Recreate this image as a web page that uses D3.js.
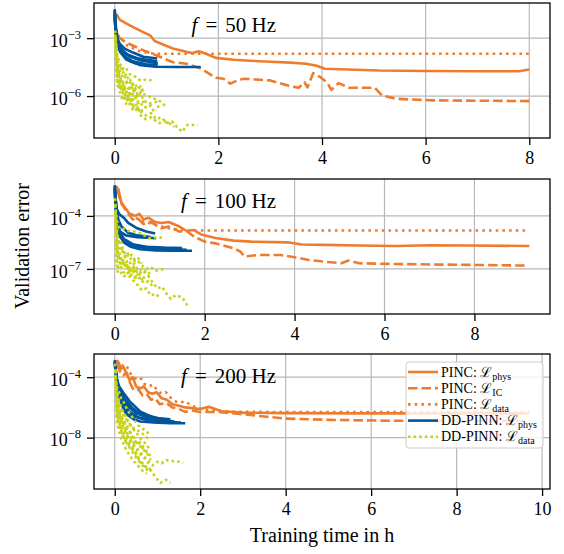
<!DOCTYPE html>
<html>
<head>
<meta charset="utf-8">
<script src="https://cdn.jsdelivr.net/npm/d3@7"></script>
<style>
  body { margin: 0; background: #fff; }
  svg { display: block; }
  text { font-family: "Liberation Serif", "Times New Roman", serif; fill: #000; }
</style>
</head>
<body>
<svg id="chart" width="564" height="554"></svg>
<script>
// ---- tick labels ----
const xTicks50 = [0, 2, 4, 6, 8];
const xTicks100 = [0, 2, 4, 6, 8];
const xTicks200 = [0, 2, 4, 6, 8, 10];
const yTicks50 = [1e-3, 1e-6];
const yTicks100 = [1e-4, 1e-7];
const yTicks200 = [1e-4, 1e-8];
const freqLabels = ["50", "100", "200"];

// ---- f = 50 Hz : [training time in h, validation error] ----
const pincPhys50 = [[0.03,1.8e-2],[0.1,8.9e-3],[0.3,4.5e-3],[0.5,2.4e-3],[0.69,1.35e-3],[0.77,7.1e-4],[1.05,3.5e-4],[1.14,2.8e-4],[1.4,1.9e-4],[1.5,1.7e-4],[1.62,2.1e-4],[1.75,1.6e-4],[1.95,9.5e-5],[2.3,7.6e-5],[2.6,6.8e-5],[3.0,6.0e-5],[3.4,5.4e-5],[3.69,4.7e-5],[3.9,3.7e-5],[4.05,2.6e-5],[4.5,2.4e-5],[5.1,2.1e-5],[6.0,2.0e-5],[7.0,1.95e-5],[7.8,1.95e-5],[8.0,2.4e-5]];
const pincIC50 = [[0.05,1.3e-3],[0.2,6.3e-4],[0.56,2.3e-4],[0.8,1.3e-4],[1.11,5.8e-5],[1.39,4.7e-5],[1.67,2.6e-5],[1.95,8.9e-6],[2.1,7.9e-6],[2.23,4.4e-6],[2.4,7.1e-6],[2.51,7.9e-6],[3.0,6.5e-6],[3.34,3.5e-6],[3.55,2.7e-6],[3.66,5.2e-6],[3.72,2.8e-6],[3.83,1.55e-5],[3.97,9.5e-6],[4.1,5.0e-6],[4.18,2.1e-6],[4.32,4.7e-6],[4.53,2.7e-6],[5.02,2.7e-6],[5.16,1.07e-6],[5.44,7.2e-7],[6.13,6.0e-7],[8.0,5.5e-7]];
const pincData50 = [[0.05,1.6e-3],[0.25,4.0e-4],[0.5,2.0e-4],[0.75,1.6e-4],[1.0,1.55e-4],[8.0,1.55e-4]];
const ddPhys50 = [
  [[0,3.2e-2],[0.01,1e-2],[0.03,2.5e-3],[0.06,7.9e-4],[0.1,3.2e-4],[0.17,1.3e-4],[0.3,6.3e-5],[0.5,4.0e-5],[0.8,3.3e-5],[1.2,3.2e-5],[1.66,3.2e-5]],
  [[0,2.5e-2],[0.02,3.2e-3],[0.05,1e-3],[0.1,5.0e-4],[0.2,2.8e-4],[0.35,1.8e-4],[0.55,1.1e-4],[0.82,8.9e-5]],
  [[0,2.0e-2],[0.02,2.0e-3],[0.06,6.3e-4],[0.12,2.8e-4],[0.25,1.4e-4],[0.45,8.9e-5],[0.82,6.3e-5]],
  [[0,1.6e-2],[0.03,1.3e-3],[0.08,4.0e-4],[0.18,1.8e-4],[0.35,1e-4],[0.6,7.1e-5],[0.7,6.3e-5]],
  [[0,1e-2],[0.03,1e-3],[0.1,2.0e-4],[0.22,7.9e-5],[0.4,5.0e-5],[0.6,4.0e-5],[0.8,3.5e-5]],
  [[0,1.3e-2],[0.02,1.6e-3],[0.06,5e-4],[0.15,2e-4],[0.3,1.1e-4],[0.5,7.1e-5],[0.83,5e-5]],
  [[0,2.8e-2],[0.01,5e-3],[0.04,8.9e-4],[0.1,2.5e-4],[0.2,1.1e-4],[0.35,6.3e-5],[0.6,4.5e-5],[0.83,4e-5]]
];
const ddData50 = [
  [[0.01,2.5e-3],[0.02,5e-4],[0.05,1.3e-4],[0.1,5e-5],[0.15,2.5e-5],[0.2,3.2e-5],[0.3,1.3e-5],[0.4,1e-5],[0.5,6.3e-6],[0.6,7.1e-6],[0.77,6.3e-6]],
  [[0.01,1e-3],[0.03,1.6e-4],[0.06,3.2e-5],[0.1,1e-5],[0.15,5e-6],[0.2,2.5e-6],[0.25,3.2e-6],[0.3,1.3e-6],[0.35,2e-6],[0.45,1e-6],[0.5,1.6e-6],[0.55,6.3e-7],[0.65,4e-7],[0.8,5e-7],[0.85,2.5e-7]],
  [[0.02,3.2e-4],[0.05,2.5e-5],[0.08,6.3e-6],[0.12,3.2e-6],[0.16,1.3e-6],[0.2,7.9e-7],[0.25,1e-6],[0.3,4e-7],[0.35,2.5e-7],[0.4,3.2e-7],[0.5,1.6e-7],[0.6,1e-7],[0.7,1.3e-7],[0.8,6.3e-8],[0.9,7.9e-8],[1.0,4e-8],[1.1,5e-8],[1.2,2.5e-8],[1.3,1.4e-8],[1.4,3.2e-8],[1.6,3.2e-8]],
  [[0.02,1e-4],[0.06,1.3e-5],[0.1,4e-6],[0.15,2e-6],[0.2,2.5e-6],[0.25,1e-6],[0.3,1.6e-6],[0.35,6.3e-7],[0.4,1e-6],[0.45,5e-7],[0.55,5e-7],[0.6,2.5e-7],[0.7,3.2e-7],[0.75,1.6e-7],[0.8,2e-7]],
  [[0.03,5e-5],[0.08,1e-5],[0.12,6.3e-6],[0.18,3.2e-6],[0.22,5e-6],[0.3,2.5e-6],[0.35,4e-6],[0.4,2e-6],[0.5,3.2e-6],[0.55,1.3e-6],[0.9,5e-7],[1.0,2.5e-7]],
  [[0.02,6.3e-4],[0.04,1e-4],[0.08,2.5e-5],[0.12,1.6e-5],[0.16,7.9e-6],[0.2,1e-5],[0.25,4e-6],[0.3,5e-6],[0.35,2e-6],[0.4,2.5e-6],[0.45,1e-6],[0.5,1.3e-6]],
  [[0.02,1.6e-4],[0.05,1.6e-5],[0.08,5e-6],[0.12,2.5e-6],[0.16,3.2e-6],[0.2,1.3e-6],[0.25,6.3e-7],[0.3,7.9e-7],[0.35,3.2e-7],[0.4,4e-7],[0.45,2e-7],[0.5,2.5e-7],[0.55,1.3e-7]],
  [[0.03,2.5e-5],[0.06,4e-6],[0.1,1.6e-6],[0.14,7.9e-7],[0.18,1e-6],[0.22,4e-7],[0.27,5e-7],[0.32,2.5e-7],[0.38,1.6e-7],[0.45,2.5e-7],[0.5,1e-7],[0.6,6.3e-8],[0.7,7.9e-8],[0.85,4e-8],[1.0,5e-8],[1.15,2.5e-8]],
  [[0.01,1.6e-3],[0.02,2.5e-4],[0.03,6.3e-5],[0.04,1.6e-5],[0.05,5e-6],[0.07,2.5e-6],[0.1,4e-6],[0.13,1.6e-6],[0.17,2e-6],[0.21,1e-6],[0.26,5e-7],[0.3,6.3e-7],[0.36,3.2e-7]],
  [[0.02,1e-3],[0.04,2e-4],[0.06,6.3e-5],[0.09,3.2e-5],[0.12,4e-5],[0.15,1.6e-5],[0.19,2e-5],[0.23,7.9e-6],[0.28,1e-5],[0.33,4e-6],[0.38,5e-6],[0.44,2.5e-6],[0.5,3.2e-6],[0.56,1.6e-6]],
  [[0.03,1e-4],[0.05,3.2e-5],[0.08,1.3e-5],[0.11,6.3e-6],[0.14,7.9e-6],[0.18,3.2e-6],[0.22,1.6e-6],[0.26,2e-6],[0.31,1e-6],[0.36,1.3e-6],[0.42,6.3e-7],[0.48,3.2e-7],[0.54,4e-7]]
];

// ---- f = 100 Hz ----
const pincPhys100 = [[0.04,5e-3],[0.1,1.3e-3],[0.16,5e-4],[0.22,3.2e-4],[0.32,1.4e-4],[0.45,1e-4],[0.55,1.3e-4],[0.64,6.3e-5],[0.75,7.9e-5],[0.9,4.5e-5],[1.04,4e-5],[1.2,4.5e-5],[1.44,2.5e-5],[1.6,1.4e-5],[1.75,1.6e-5],[1.92,8.9e-6],[2.24,5.6e-6],[2.64,4e-6],[3.04,3.5e-6],[3.84,3.2e-6],[4.16,2.4e-6],[4.64,2.3e-6],[5.44,2.1e-6],[6.24,2e-6],[7.04,2.2e-6],[7.84,2.1e-6],[9.22,2e-6]];
const pincIC100 = [[0.08,3.5e-3],[0.15,5e-4],[0.25,2e-4],[0.4,6.3e-5],[0.5,7.9e-5],[0.64,3.5e-5],[0.8,4.5e-5],[1.04,2e-5],[1.2,2.5e-5],[1.44,1.3e-5],[1.6,1.4e-5],[1.76,6.8e-6],[2.0,3.5e-6],[2.24,2.8e-6],[2.64,1.5e-6],[2.8,9.5e-7],[2.88,5e-7],[3.2,6.2e-7],[3.68,6.2e-7],[4.0,4.6e-7],[4.32,3.2e-7],[4.64,2.6e-7],[5.04,2.1e-7],[5.2,3e-7],[5.44,2.1e-7],[6.24,1.9e-7],[7.84,1.7e-7],[9.2,1.55e-7]];
const pincData100 = [[0.05,2.5e-3],[0.2,3.2e-4],[0.4,1e-4],[0.6,5e-5],[0.9,3.2e-5],[1.2,2e-5],[1.6,1.5e-5],[2.0,1.5e-5],[9.2,1.5e-5]];
const ddPhys100 = [
  [[0,5.5e-3],[0.02,1e-3],[0.04,1.3e-4],[0.08,2.5e-5],[0.14,7.9e-6],[0.2,3.2e-6],[0.35,1.8e-6],[0.57,1.3e-6],[0.9,1.1e-6],[1.3,1.07e-6],[1.72,1.07e-6]],
  [[0,4e-3],[0.03,2.5e-4],[0.06,4e-5],[0.1,1.3e-5],[0.2,4.5e-6],[0.35,2.5e-6],[0.6,1.8e-6],[0.9,1.6e-6],[1.2,1.4e-6]],
  [[0,2.5e-3],[0.03,1.6e-4],[0.06,3.2e-5],[0.12,1.3e-5],[0.25,7.9e-6],[0.5,6.3e-6],[0.92,5.5e-6]],
  [[0.01,1.6e-3],[0.04,2.5e-4],[0.1,1.3e-4],[0.2,7.9e-5],[0.3,4e-5],[0.5,2e-5],[0.7,1.3e-5],[0.9,1e-5]],
  [[0.01,1.3e-3],[0.02,5e-4],[0.08,6.3e-5],[0.15,2.5e-5],[0.3,1.1e-5],[0.5,7.9e-6],[0.8,6.3e-6]],
  [[0,5e-3],[0.03,5e-4],[0.06,6.3e-5],[0.1,1.6e-5],[0.2,5e-6],[0.4,2.5e-6],[0.7,1.8e-6],[1.1,1.6e-6],[1.5,1.5e-6]],
  [[0,3.2e-3],[0.02,3.2e-4],[0.05,3.2e-5],[0.1,7.9e-6],[0.2,3.5e-6],[0.4,2e-6],[0.8,1.4e-6],[1.3,1.3e-6],[1.6,1.2e-6]]
];
const ddData100 = [
  [[0.01,1e-3],[0.02,2.5e-4],[0.04,7.9e-5],[0.07,3.2e-5],[0.1,2e-5],[0.2,1.8e-5],[0.3,1.4e-5],[0.45,1.3e-5],[0.6,1e-5],[0.75,5.6e-6],[0.95,6.3e-6],[1.1,5.6e-6]],
  [[0.02,3.2e-5],[0.04,5e-6],[0.07,1.6e-6],[0.12,6.3e-7],[0.18,1e-6],[0.25,4e-7],[0.3,6.3e-7],[0.4,2.5e-7],[0.5,3.2e-7],[0.6,1.6e-7],[0.7,1e-7],[0.8,1.3e-7],[0.9,7.9e-8],[1.0,8.9e-8],[1.1,1e-7]],
  [[0.03,1e-5],[0.05,1.6e-6],[0.08,4e-7],[0.12,2e-7],[0.18,3.2e-7],[0.25,1.3e-7],[0.35,7.9e-8],[0.45,1.3e-7],[0.55,5e-8],[0.65,3.2e-8],[0.75,4e-8],[0.85,1.6e-8],[0.95,7.9e-9],[1.05,1e-8],[1.15,4e-9],[1.25,2e-9],[1.35,3.2e-9],[1.5,2.5e-9],[1.65,6.3e-10]],
  [[0.02,3.2e-6],[0.04,3.2e-7],[0.06,7.9e-8],[0.1,5e-8],[0.15,6.3e-8],[0.2,4e-8],[0.3,4.5e-8],[0.4,2.5e-8],[0.5,1.3e-8],[0.6,6.3e-9],[0.7,7.9e-9],[0.8,3.2e-9],[0.9,4e-9],[1.0,2.5e-9]],
  [[0.05,1e-6],[0.1,4e-7],[0.15,1.6e-7],[0.22,2.5e-7],[0.3,1e-7],[0.4,1.6e-7],[0.5,6.3e-8],[0.6,1e-7],[0.7,5e-8],[0.8,6.3e-8]],
  [[0.02,1.6e-4],[0.04,2.5e-5],[0.07,6.3e-6],[0.1,2.5e-6],[0.14,3.2e-6],[0.18,1.3e-6],[0.22,7.9e-7],[0.27,1e-6],[0.32,5e-7],[0.38,6.3e-7],[0.45,3.2e-7],[0.52,4e-7],[0.6,2e-7]],
  [[0.03,6.3e-7],[0.06,1.6e-7],[0.1,1e-7],[0.14,1.3e-7],[0.2,6.3e-8],[0.26,7.9e-8],[0.33,4e-8],[0.4,5e-8],[0.48,2.5e-8],[0.56,3.2e-8],[0.65,1.6e-8],[0.75,2e-8],[0.85,1e-8]],
  [[0.02,6.3e-5],[0.05,1e-5],[0.09,2.5e-6],[0.13,1e-6],[0.17,1.6e-6],[0.21,6.3e-7],[0.26,2.5e-7],[0.31,3.2e-7],[0.37,1.6e-7],[0.44,2e-7],[0.5,1e-7],[0.58,6.3e-8],[0.66,7.9e-8],[0.75,4e-8]],
  [[0.01,4e-4],[0.02,5e-5],[0.03,1e-5],[0.05,2.5e-6],[0.07,7.9e-7],[0.1,4e-7],[0.13,5e-7],[0.17,2e-7],[0.21,2.5e-7],[0.26,1e-7],[0.31,1.3e-7],[0.37,6.3e-8],[0.44,7.9e-8],[0.5,4e-8]],
  [[0.02,1e-5],[0.04,1.3e-6],[0.07,5e-7],[0.1,6.3e-7],[0.14,2.5e-7],[0.18,3.2e-7],[0.23,1.3e-7],[0.28,1.6e-7],[0.34,6.3e-8],[0.4,7.9e-8],[0.47,3.2e-8],[0.55,5e-8],[0.62,2e-8]]
];

// ---- f = 200 Hz ----
const pincPhys200 = [[0.03,1.35e-3],[0.1,7.9e-4],[0.15,3.5e-4],[0.2,5e-4],[0.28,1.6e-4],[0.35,6.3e-5],[0.42,1e-4],[0.5,2.5e-5],[0.6,1.8e-5],[0.68,2.5e-5],[0.78,1e-5],[0.88,7.9e-6],[0.98,1e-5],[1.1,4e-6],[1.22,3.2e-6],[1.35,1.6e-6],[1.5,1.3e-6],[1.65,1e-6],[1.8,8.9e-7],[2.0,7.9e-7],[2.2,1.1e-6],[2.5,5.6e-7],[3.0,4.5e-7],[4.0,4.2e-7],[6.0,4e-7],[8.0,4e-7],[9.7,4e-7]];
const pincIC200 = [[0.05,7.9e-4],[0.12,2.5e-4],[0.2,1.3e-4],[0.28,2e-4],[0.36,4e-5],[0.45,1.3e-5],[0.55,1.6e-5],[0.65,6.3e-6],[0.75,7.9e-6],[0.85,3.2e-6],[0.95,4e-6],[1.05,1.6e-6],[1.2,2e-6],[1.35,1e-6],[1.5,7.9e-7],[1.65,5e-7],[1.8,6.3e-7],[2.0,5e-7],[2.4,5e-7],[3.0,3.5e-7],[3.5,2.5e-7],[4.0,1.8e-7],[5.0,1.5e-7],[6.5,1.3e-7],[8.0,1.26e-7],[9.7,1.26e-7]];
const pincData200 = [[0.05,1e-3],[0.12,1.1e-3],[0.2,5e-4],[0.28,5.6e-4],[0.35,2e-4],[0.45,1e-4],[0.55,6.3e-5],[0.62,7.9e-5],[0.7,3.5e-5],[0.8,2.5e-5],[0.9,3.2e-5],[1.0,1.3e-5],[1.1,7.9e-6],[1.2,1e-5],[1.35,3.2e-6],[1.5,2e-6],[1.65,2.5e-6],[1.8,1.3e-6],[2.0,7.9e-7],[2.3,6.3e-7],[2.7,5.2e-7],[3.5,5e-7],[9.7,5e-7]];
const ddPhys200 = [
  [[0,1.35e-3],[0.02,2.5e-4],[0.05,4e-5],[0.1,6.3e-6],[0.15,2e-6],[0.21,6.8e-7],[0.3,3.2e-7],[0.45,1.6e-7],[0.6,1.15e-7],[0.9,1e-7],[1.3,8.9e-8],[1.65,8.9e-8]],
  [[0,1e-3],[0.03,1e-4],[0.07,1.6e-5],[0.12,4e-6],[0.2,1.3e-6],[0.3,5e-7],[0.45,2.5e-7],[0.7,1.6e-7],[1.0,1.3e-7],[1.4,1.1e-7]],
  [[0.01,6.3e-4],[0.04,1e-4],[0.1,2.5e-5],[0.21,8.7e-6],[0.35,2.5e-6],[0.6,5.2e-7],[0.9,2.2e-7],[1.37,1.15e-7]],
  [[0.02,3.2e-4],[0.06,5e-5],[0.12,1.3e-5],[0.25,3.2e-6],[0.4,1e-6],[0.6,3.5e-7],[0.9,1.8e-7],[1.2,1.4e-7]],
  [[0.02,4e-4],[0.05,6.3e-5],[0.1,1.3e-5],[0.18,4e-6],[0.3,1.3e-6],[0.5,4e-7],[0.8,2e-7],[1.1,1.4e-7]],
  [[0,1.1e-3],[0.03,1.6e-4],[0.07,2.5e-5],[0.13,6.3e-6],[0.22,1.6e-6],[0.35,5e-7],[0.55,2.2e-7],[0.85,1.4e-7],[1.2,1.1e-7],[1.55,1e-7]],
  [[0.01,5e-4],[0.04,7.9e-5],[0.09,1.6e-5],[0.16,5e-6],[0.28,1.6e-6],[0.45,6.3e-7],[0.7,3.2e-7],[1.0,2e-7],[1.3,1.6e-7]]
];
const ddData200 = [
  [[0.01,7.9e-4],[0.02,1.6e-4],[0.03,5e-5],[0.05,2.5e-5],[0.08,1.3e-5],[0.12,7.9e-6],[0.15,4e-6],[0.18,3.2e-6],[0.25,1.3e-6],[0.3,6.3e-7],[0.35,4e-7],[0.45,1.6e-7],[0.55,6.3e-8],[0.65,4e-8],[0.75,2.5e-8],[0.84,1.3e-8]],
  [[0.02,3.2e-5],[0.04,5e-6],[0.06,1.6e-6],[0.1,5e-7],[0.15,2.5e-7],[0.2,1.3e-7],[0.25,6.3e-8],[0.3,3.2e-8],[0.37,2e-8],[0.45,1e-8],[0.5,5e-9],[0.6,2.5e-9],[0.7,1.3e-9],[0.8,6.3e-10],[0.84,3.4e-10]],
  [[0.03,3.2e-6],[0.06,5e-7],[0.1,1.3e-7],[0.15,5e-8],[0.2,2.5e-8],[0.25,1.3e-8],[0.3,6.3e-9],[0.4,2.5e-9],[0.5,1e-9],[0.6,2.5e-10],[0.7,1.3e-10],[0.84,7.9e-11],[0.9,1.6e-10],[1.0,2.5e-10],[1.1,2e-10],[1.2,3.2e-10],[1.35,2.8e-10],[1.5,2.5e-10],[1.6,2e-10]],
  [[0.04,1e-6],[0.08,1.6e-7],[0.12,6.3e-8],[0.18,1.6e-8],[0.25,6.3e-9],[0.35,2.5e-9],[0.45,1.3e-9],[0.55,4e-10],[0.65,2e-10],[0.75,1e-10],[0.85,6.3e-11],[0.95,2.5e-11],[1.07,1e-11],[1.2,1.6e-11],[1.3,1e-11]],
  [[0.05,1e-5],[0.1,1.6e-6],[0.15,7.9e-7],[0.22,2.5e-7],[0.3,1.3e-7],[0.4,5e-8],[0.5,3.2e-8],[0.6,2.5e-8],[0.7,1.3e-8],[0.8,7.9e-9]],
  [[0.02,2.5e-4],[0.04,2.5e-5],[0.07,6.3e-6],[0.1,2.5e-6],[0.14,1.3e-6],[0.18,6.3e-7],[0.23,4e-7],[0.28,1.6e-7],[0.33,1e-7],[0.4,5e-8],[0.48,2.5e-8],[0.56,1.3e-8],[0.64,6.3e-9],[0.72,4e-9],[0.8,2e-9]],
  [[0.03,1e-5],[0.05,1.6e-6],[0.08,4e-7],[0.12,1.6e-7],[0.16,7.9e-8],[0.21,4e-8],[0.26,2e-8],[0.31,1e-8],[0.37,5e-9],[0.44,3.2e-9],[0.52,1.6e-9],[0.6,7.9e-10],[0.68,5e-10],[0.76,2.5e-10],[0.84,1.6e-10]],
  [[0.02,1e-4],[0.04,1e-5],[0.07,2.5e-6],[0.11,7.9e-7],[0.15,3.2e-7],[0.2,1.6e-7],[0.26,7.9e-8],[0.32,4e-8],[0.38,1.6e-8],[0.45,7.9e-9],[0.52,4e-9],[0.6,5e-9],[0.68,2e-9],[0.76,1e-9],[0.84,6.3e-10]],
  [[0.04,3.2e-7],[0.07,6.3e-8],[0.1,2.5e-8],[0.14,1e-8],[0.19,5e-9],[0.25,2e-9],[0.31,1e-9],[0.38,5e-10],[0.46,2.5e-10],[0.55,1.3e-10],[0.65,6.3e-11],[0.75,4e-11]],
  [[0.01,3.2e-4],[0.02,4e-5],[0.04,6.3e-6],[0.06,2e-6],[0.09,6.3e-7],[0.12,2.5e-7],[0.16,1.3e-7],[0.2,5e-8],[0.25,2.5e-8],[0.3,1.3e-8],[0.36,7.9e-9],[0.42,4e-9],[0.5,2e-9],[0.58,1.3e-9],[0.66,6.3e-10],[0.74,4e-10],[0.82,2.5e-10]],
  [[0.02,1.6e-5],[0.05,2.5e-6],[0.08,1e-6],[0.11,4e-7],[0.15,1.6e-7],[0.19,7.9e-8],[0.24,4e-8],[0.29,2e-8],[0.35,1.3e-8],[0.41,6.3e-9],[0.48,3.2e-9],[0.55,6.3e-9],[0.62,2.5e-9],[0.7,1.6e-9],[0.78,7.9e-10]],
  [[0.03,1.6e-6],[0.06,2.5e-7],[0.09,1e-7],[0.13,4e-8],[0.17,2e-8],[0.22,1e-8],[0.27,5e-9],[0.33,2.5e-9],[0.4,1.3e-9],[0.47,6.3e-10],[0.55,3.2e-10],[0.63,1.6e-10],[0.72,1e-10],[0.8,5e-11]]
];

// ---- legend ----
const legendLabels = [
  { name: "PINC: ", sub: "phys", key: "pincPhys" },
  { name: "PINC: ", sub: "IC", key: "pincIC" },
  { name: "PINC: ", sub: "data", key: "pincData" },
  { name: "DD-PINN: ", sub: "phys", key: "ddPhys" },
  { name: "DD-PINN: ", sub: "data", key: "ddData" }
];

// ---- styling ----
const ORANGE = "#ee7c2f", BLUE = "#00569c", GREEN = "#c6d21b";
const LW = 2.6;
const SERIF = "'Liberation Serif', 'Times New Roman', serif";
const styles = {
  pincPhys: { color: ORANGE, dash: null },
  pincIC:   { color: ORANGE, dash: "9.5,4" },
  pincData: { color: ORANGE, dash: "2.6,4.1" },
  ddPhys:   { color: BLUE, dash: null },
  ddData:   { color: GREEN, dash: "2.6,3" }
};

const panels = [
  { freq: freqLabels[0], pincPhys: pincPhys50, pincIC: pincIC50, pincData: pincData50, ddPhys: ddPhys50, ddData: ddData50, xTicks: xTicks50, yTicks: yTicks50, top: 3 },
  { freq: freqLabels[1], pincPhys: pincPhys100, pincIC: pincIC100, pincData: pincData100, ddPhys: ddPhys100, ddData: ddData100, xTicks: xTicks100, yTicks: yTicks100, top: 179 },
  { freq: freqLabels[2], pincPhys: pincPhys200, pincIC: pincIC200, pincData: pincData200, ddPhys: ddPhys200, ddData: ddData200, xTicks: xTicks200, yTicks: yTicks200, top: 354 }
];

const LEFT = 94, RIGHT = 550, PH = 135;
const svg = d3.select("#chart");
const superMinus = "\u2212";

panels.forEach((p, i) => {
  const all = [p.pincPhys, p.pincIC, p.pincData, ...p.ddPhys, ...p.ddData].flat();
  const [t0, t1] = d3.extent(all, d => d[0]);
  const [l0, l1] = d3.extent(all, d => Math.log10(d[1]));
  const tPad = (t1 - t0) * 0.05, lPad = (l1 - l0) * 0.05;
  const x = d3.scaleLinear().domain([t0 - tPad, t1 + tPad]).range([LEFT, RIGHT]);
  const y = d3.scaleLog().domain([Math.pow(10, l0 - lPad), Math.pow(10, l1 + lPad)]).range([p.top + PH, p.top]);

  const g = svg.append("g");
  const clipId = "clip" + i;
  svg.append("clipPath").attr("id", clipId).append("rect")
    .attr("x", LEFT).attr("y", p.top).attr("width", RIGHT - LEFT).attr("height", PH);

  // grid
  g.append("g").selectAll("line").data(p.xTicks).join("line")
    .attr("x1", d => x(d)).attr("x2", d => x(d)).attr("y1", p.top).attr("y2", p.top + PH)
    .attr("stroke", "#b8b8b8").attr("stroke-width", 1.2);
  g.append("g").selectAll("line").data(p.yTicks).join("line")
    .attr("x1", LEFT).attr("x2", RIGHT).attr("y1", d => y(d)).attr("y2", d => y(d))
    .attr("stroke", "#b8b8b8").attr("stroke-width", 1.2);

  const line = d3.line().x(d => x(d[0])).y(d => y(d[1]));
  const plot = g.append("g").attr("clip-path", `url(#${clipId})`);
  const draw = (data, st) => plot.append("path").attr("d", line(data))
    .attr("fill", "none").attr("stroke", st.color).attr("stroke-width", LW)
    .attr("stroke-dasharray", st.dash).attr("stroke-linejoin", "round");

  draw(p.pincPhys, styles.pincPhys);
  draw(p.pincIC, styles.pincIC);
  draw(p.pincData, styles.pincData);
  p.ddPhys.forEach(run => draw(run, styles.ddPhys));
  p.ddData.forEach(run => draw(run, styles.ddData));

  // frame
  g.append("rect").attr("x", LEFT).attr("y", p.top).attr("width", RIGHT - LEFT).attr("height", PH)
    .attr("fill", "none").attr("stroke", "#000").attr("stroke-width", 1.3);

  // x axis
  const xa = g.append("g").attr("transform", `translate(0,${p.top + PH})`)
    .call(d3.axisBottom(x).tickValues(p.xTicks).tickSize(7).tickPadding(6).tickFormat(d3.format("d")));
  xa.attr("font-family", null).attr("font-size", null).style("font-family", SERIF);
  xa.select(".domain").remove();
  xa.selectAll("line").attr("stroke", "#000").attr("stroke-width", 1.3);
  xa.selectAll("text").style("font-family", SERIF).style("font-size", "18px").attr("fill", "#000");

  // y axis with power-of-ten labels
  const ya = g.append("g").attr("transform", `translate(${LEFT},0)`)
    .call(d3.axisLeft(y).tickValues(p.yTicks).tickSize(7).tickPadding(6).tickFormat(() => ""));
  ya.attr("font-family", null).attr("font-size", null).style("font-family", SERIF);
  ya.select(".domain").remove();
  ya.selectAll("line").attr("stroke", "#000").attr("stroke-width", 1.3);
  ya.selectAll(".tick text").each(function(d) {
    const t = d3.select(this).style("font-family", SERIF).style("font-size", "18px").attr("fill", "#000").attr("dy", "0.45em");
    t.append("tspan").text("10");
    t.append("tspan").style("font-size", "12.5px").attr("dy", -8).text(superMinus + Math.round(-Math.log10(d)));
  });

  // frequency annotation
  const ann = g.append("text").attr("x", 276).attr("y", p.top + 29).attr("text-anchor", "end").style("font-size", "21px");
  ann.append("tspan").attr("font-style", "italic").text("f");
  ann.append("tspan").attr("dx", 8).text("=");
  ann.append("tspan").attr("dx", 8).text(p.freq + " Hz");

  // legend in the last panel
  if (i === 2) {
    const lg = svg.append("g");
    lg.append("rect").attr("x", 406).attr("y", 362).attr("width", 137).attr("height", 86).attr("rx", 3)
      .attr("fill", "#fff").attr("fill-opacity", 0.8).attr("stroke", "#cccccc").attr("stroke-width", 1);
    legendLabels.forEach((e, k) => {
      const cy = 372 + k * 16.2;
      const st = styles[e.key];
      lg.append("line").attr("x1", 408).attr("x2", 438).attr("y1", cy).attr("y2", cy)
        .attr("stroke", st.color).attr("stroke-width", LW).attr("stroke-dasharray", st.dash);
      const tx = lg.append("text").attr("x", 441).attr("y", cy + 4.5).style("font-size", "14px");
      tx.append("tspan").text(e.name + "\u2112");
      tx.append("tspan").style("font-size", "10px").attr("dy", 3).text(e.sub);
    });
  }
});

// axis titles
svg.append("text").attr("x", 322).attr("y", 542).attr("text-anchor", "middle").style("font-size", "20px")
  .text("Training time in h");
svg.append("text").attr("transform", "translate(29,246) rotate(-90)").attr("text-anchor", "middle").style("font-size", "20px")
  .text("Validation error");
</script>
</body>
</html>
